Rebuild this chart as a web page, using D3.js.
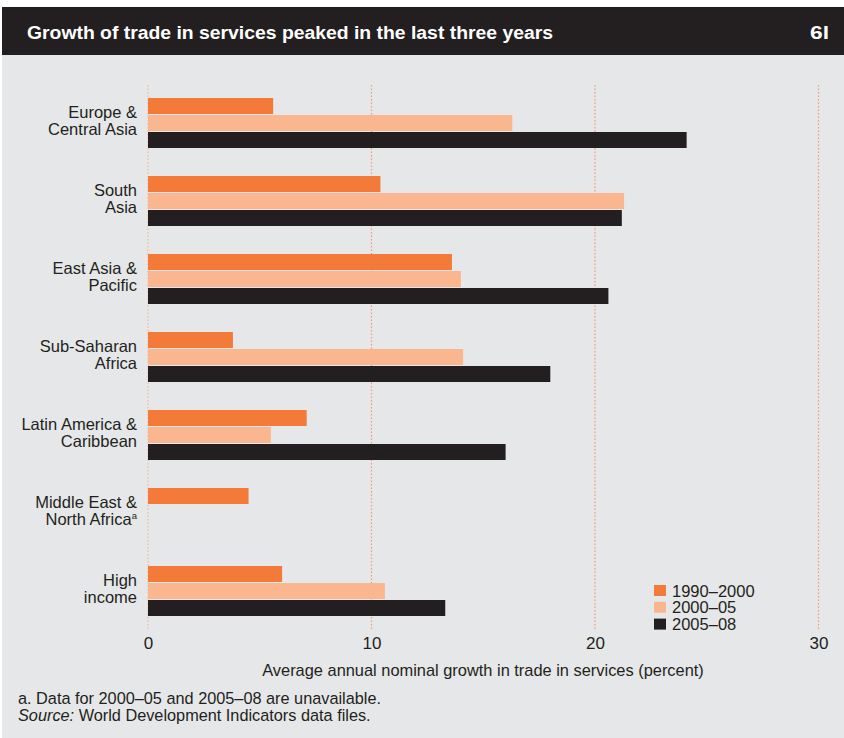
<!DOCTYPE html>
<html>
<head>
<meta charset="utf-8">
<script src="https://cdn.jsdelivr.net/npm/d3@7"></script>
<style>
  html, body { margin: 0; padding: 0; background: #ffffff; }
  svg { display: block; }
  text { font-family: "Liberation Sans", Arial, sans-serif; fill: #231f20; }
</style>
</head>
<body>
<svg id="chart" width="844" height="738"></svg>
<script>
// ---- data ----
const categories = [
  ["Europe &", "Central Asia"],
  ["South", "Asia"],
  ["East Asia &", "Pacific"],
  ["Sub-Saharan", "Africa"],
  ["Latin America &", "Caribbean"],
  ["Middle East &", "North Africa"],
  ["High", "income"]
];
const categoryKeys = ["ECA", "SA", "EAP", "SSA", "LAC", "MENA", "HI"];
const seriesNames = ["1990–2000", "2000–05", "2005–08"];
const s1990_2000 = [5.6, 10.4, 13.6, 3.8, 7.1, 4.5, 6.0];
const s2000_05   = [16.3, 21.3, 14.0, 14.1, 5.5, null, 10.6];
const s2005_08   = [24.1, 21.2, 20.6, 18.0, 16.0, null, 13.3];
const xTicks = [0, 10, 20, 30];
const colors = ["#f47a3a", "#fab78f", "#231f20"];

const seriesValues = [s1990_2000, s2000_05, s2005_08];

const svg = d3.select("#chart");

// panel background
svg.append("rect").attr("x", 2).attr("y", 7).attr("width", 842).attr("height", 731).attr("fill", "#e6e7e8");
// header band
svg.append("rect").attr("x", 2).attr("y", 7).attr("width", 842).attr("height", 48).attr("fill", "#231f20");
svg.append("text").attr("x", 27).attr("y", 39)
  .attr("textLength", 526).attr("lengthAdjust", "spacingAndGlyphs")
  .style("font-family", "'Liberation Sans', Arial, sans-serif")
  .style("font-weight", "bold").style("font-size", "18px").style("fill", "#ffffff")
  .text("Growth of trade in services peaked in the last three years");
svg.append("text").attr("x", 810).attr("y", 39)
  .attr("textLength", 19).attr("lengthAdjust", "spacingAndGlyphs")
  .style("font-family", "'Liberation Sans', Arial, sans-serif")
  .style("font-weight", "bold").style("font-size", "18px").style("fill", "#ffffff")
  .text("6l");

// scales
const x = d3.scaleLinear().domain([0, 30]).range([148, 818.5]);
const y = d3.scaleBand().domain(categoryKeys).range([98, 616]).paddingInner(28 / 78).paddingOuter(0);
const yInner = d3.scaleBand().domain(seriesNames).range([0, y.bandwidth()]).paddingInner(1 / 17).paddingOuter(0);

// gridlines
svg.append("g").selectAll("line").data(xTicks).join("line")
  .attr("x1", d => x(d)).attr("x2", d => x(d))
  .attr("y1", 85).attr("y2", 629)
  .attr("stroke", (d, i) => i === 0 ? "#f5b79a" : "#f39a6a")
  .attr("stroke-width", 1.2)
  .attr("stroke-dasharray", "1.5,2");

// bars
const groups = svg.append("g").selectAll("g").data(categoryKeys).join("g")
  .attr("transform", d => `translate(0,${y(d)})`);
groups.each(function (key, ci) {
  const g = d3.select(this);
  seriesNames.forEach((s, si) => {
    const v = seriesValues[si][ci];
    if (v === null) return;
    g.append("rect")
      .attr("x", x(0)).attr("y", yInner(s))
      .attr("width", x(v) - x(0)).attr("height", yInner.bandwidth())
      .attr("fill", colors[si]);
  });
});

// category labels
const labelG = svg.append("g");
categoryKeys.forEach((key, ci) => {
  const cy = y(key) + y.bandwidth() / 2;
  const t = labelG.append("text").attr("x", 137).attr("text-anchor", "end")
    .style("font-size", "16.5px");
  t.append("tspan").attr("x", 137).attr("y", cy - 5).text(categories[ci][0]);
  t.append("tspan").attr("x", 137).attr("y", cy + 12).text(categories[ci][1]);
  if (key === "MENA") {
    t.append("tspan").attr("dy", -6).style("font-size", "9.5px").text("a");
  }
});

// x axis tick labels
const xAxis = d3.axisBottom(x).tickValues(xTicks).tickSize(0).tickPadding(0).tickFormat(d3.format("d"));
const axG = svg.append("g").attr("transform", "translate(0,637)").call(xAxis);
axG.select(".domain").remove();
axG.selectAll("text").style("font-size", "17px").style("font-family", "'Liberation Sans', Arial, sans-serif").attr("fill", "#231f20");

svg.append("text").attr("x", 483).attr("y", 676).attr("text-anchor", "middle")
  .style("font-size", "16.4px")
  .text("Average annual nominal growth in trade in services (percent)");

// legend
const leg = svg.append("g").attr("transform", "translate(654,585)");
seriesNames.forEach((s, i) => {
  leg.append("rect").attr("x", 0).attr("y", i * 16.8).attr("width", 12).attr("height", 11).attr("fill", colors[i]);
  leg.append("text").attr("x", 18).attr("y", i * 16.8 + 11.5).style("font-size", "16.5px").text(s);
});

// footnotes
svg.append("text").attr("x", 18).attr("y", 704).style("font-size", "16.3px")
  .text("a. Data for 2000–05 and 2005–08 are unavailable.");
const src = svg.append("text").attr("x", 18).attr("y", 720.8).style("font-size", "16.3px");
src.append("tspan").style("font-style", "italic").text("Source:");
src.append("tspan").text(" World Development Indicators data files.");
</script>
</body>
</html>
